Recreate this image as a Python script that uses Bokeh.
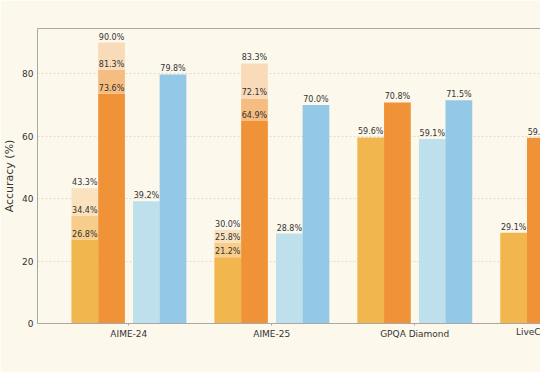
import math
from bokeh.plotting import figure
from bokeh.models import FixedTicker, LinearAxis, Label, Range1d
from bokeh.core.properties import value
from bokeh.embed import file_html
from bokeh.resources import INLINE

nan = float("nan")

# ---- data ----
categories = ["AIME-24", "AIME-25", "GPQA Diamond", "LiveCodeBench v5"]
# series 1 (yellow) with two extra stacked levels
a_base = [26.8, 21.2, 59.6, 29.1]
a_mid = [34.4, 25.8, nan, nan]
a_top = [43.3, 30.0, nan, nan]
# series 2 (orange) with two extra stacked levels
b_base = [73.6, 64.9, 70.8, 59.5]
b_mid = [81.3, 72.1, nan, nan]
b_top = [90.0, 83.3, nan, nan]
# series 3 (light blue) and series 4 (blue)
c_vals = [39.2, 28.8, 59.1, nan]
d_vals = [79.8, 70.0, 71.5, nan]
y_ticks = [0, 20, 40, 60, 80]

BG = "#FDF8EC"
FONT = "DejaVu Sans"
W = 0.187
offsets = [-0.308, -0.121, 0.123, 0.309]

p = figure(width=540, height=372, output_backend="svg", toolbar_location=None,
           x_range=Range1d(-0.639, 2.880), y_range=Range1d(0, 94.5),
           min_border_left=36, min_border_right=0, min_border_top=28,
           min_border_bottom=49)
p.background_fill_color = BG
p.border_fill_color = BG
p.outline_line_color = None


def bars(offset, lows, highs, color):
    xs, b, t = [], [], []
    for i, (lo, hi) in enumerate(zip(lows, highs)):
        if not (math.isnan(lo) or math.isnan(hi)):
            xs.append(i + offset)
            b.append(lo)
            t.append(hi)
    p.vbar(x=xs, bottom=b, top=t, width=W, fill_color=color, line_color=None)


def labels(offset, vals):
    xs, ys, ts = [], [], []
    for i, v in enumerate(vals):
        if not math.isnan(v):
            xs.append(i + offset)
            ys.append(v)
            ts.append(f"{v:.1f}%")
    p.text(x=xs, y=ys, text=ts, text_align="center", text_baseline="bottom",
           text_font=value(FONT), text_font_size="8px", text_color="#333333",
           y_offset=-1)


zeros = [0.0] * len(categories)
bars(offsets[0], zeros, a_base, "#F2B64E")
bars(offsets[0], a_base, a_mid, "#F6CD8A")
bars(offsets[0], a_mid, a_top, "#FAE2BF")
bars(offsets[1], zeros, b_base, "#F09237")
bars(offsets[1], b_base, b_mid, "#F5BD80")
bars(offsets[1], b_mid, b_top, "#F9DBB9")
bars(offsets[2], zeros, c_vals, "#BEDFEC")
bars(offsets[3], zeros, d_vals, "#93C8E6")

for off, vals in [(offsets[0], a_base), (offsets[0], a_mid), (offsets[0], a_top),
                  (offsets[1], b_base), (offsets[1], b_mid), (offsets[1], b_top),
                  (offsets[2], c_vals), (offsets[3], d_vals)]:
    labels(off, vals)

# axes
spine = "#A8A8A8"
p.xaxis.ticker = FixedTicker(ticks=list(range(len(categories))))
p.xaxis.major_label_overrides = {i: c for i, c in enumerate(categories)}
p.yaxis.ticker = FixedTicker(ticks=y_ticks)
for ax in (p.xaxis[0], p.yaxis[0]):
    ax.axis_line_color = spine
    ax.major_tick_line_color = spine
    ax.minor_tick_line_color = None
    ax.major_tick_in = 0
    ax.major_label_text_font = FONT
    ax.major_label_text_font_size = "9px"
    ax.major_label_text_color = "#333333"
p.xaxis.major_tick_out = 2
p.xaxis.major_label_standoff = 3
p.yaxis.major_tick_out = 0
p.yaxis.major_label_standoff = 4
p.yaxis.axis_label = "Accuracy (%)"
p.yaxis.axis_label_text_font = FONT
p.yaxis.axis_label_text_font_size = "11px"
p.yaxis.axis_label_text_font_style = "normal"
p.yaxis.axis_label_text_color = "#333333"
p.yaxis.axis_label_standoff = 3

top = LinearAxis(axis_line_color=spine, ticker=FixedTicker(ticks=[]),
                 major_tick_line_color=None, minor_tick_line_color=None,
                 major_label_standoff=0, major_tick_out=0, major_tick_in=0)
p.add_layout(top, "above")

p.xgrid.grid_line_color = None
p.ygrid.grid_line_color = "#D8D4CC"
p.ygrid.grid_line_dash = "2 2"
p.ygrid.grid_line_alpha = 0.8

# category label that falls past the visible x range (cropped at the edge)
for i, c in enumerate(categories):
    if i > p.x_range.end:
        p.add_layout(Label(x=i, y=0, text=c, text_align="center", text_baseline="top",
                           y_offset=-3, text_font=FONT, text_font_size="9px",
                           text_color="#333333"), "below")

open("out.html", "w").write(file_html(p, INLINE))
